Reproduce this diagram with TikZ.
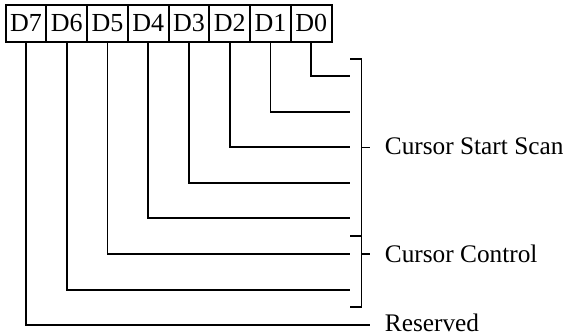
\documentclass[tikz,border=0pt]{standalone}
\usepackage{fontspec}
\setmainfont{Liberation Serif}
\begin{document}
\begin{tikzpicture}[x=1pt,y=-1pt,line width=1.9pt,
  bitbox/.style={draw,minimum width=40.75pt,minimum height=36.6pt,inner sep=0pt,
    font=\fontsize{26}{30}\selectfont},
  lbl/.style={anchor=base west,inner sep=0pt,font=\fontsize{25.3}{30}\selectfont}]
\useasboundingbox (0,0) rectangle (564,336);
% register boxes
\foreach \n [count=\i from 0] in {7,6,5,4,3,2,1,0}{
  \node[bitbox] (d\n) at ({5.6+20.375+40.75*\i},23.4) {D\n};
}
% line end points
\foreach \n in {0,...,6}{
  \coordinate (e\n) at (350,{76+35.6*\n});
}
\coordinate (e7) at (370,325.2);
\foreach \n in {0,...,7}{
  \draw (d\n.south) |- (e\n);
}
% brackets
\coordinate (bt) at (350,59);
\coordinate (bb) at (350,307);
\coordinate (bm) at (350,236);
\coordinate (bv) at (361.5,236);
\draw (bt) -| (361.5,307) -- (bb);
\draw (bm) -- (bv);
\coordinate (m1) at (370,147.5);
\coordinate (m2) at (370,254);
\draw (361.5,147.5) -- (m1);
\draw (361.5,254) -- (m2);
% labels
\node[lbl] (l1) at (384,155) {Cursor Start Scan};
\node[lbl] (l2) at (384,262) {Cursor Control};
\node[lbl] (l3) at (384,331.5) {Reserved};
\end{tikzpicture}
\end{document}
